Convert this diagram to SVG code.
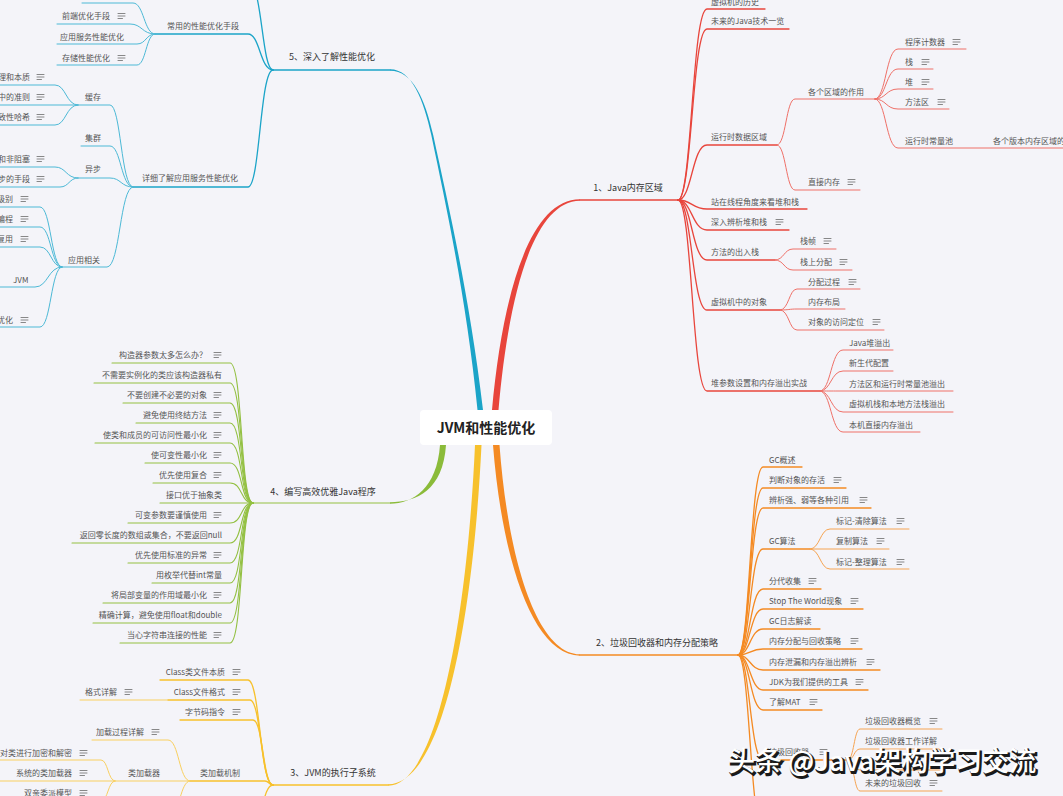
<svg xmlns="http://www.w3.org/2000/svg" width="1063" height="796" viewBox="0 0 1063 796">
<style>
text{font-family:"Noto Sans CJK SC","Noto Sans",sans-serif;font-size:8px;fill:#555}
.m{font-size:9px;fill:#333}
.e{text-anchor:end}
.c{text-anchor:middle}
path{fill:none;stroke-linecap:round}
.r2{stroke:#e8453c;stroke-width:1.3}
.r3{stroke:#ef7068;stroke-width:1}
.o2{stroke:#f48a23;stroke-width:1.3}
.o3{stroke:#f6a452;stroke-width:1}
.y2{stroke:#f7c12c;stroke-width:1.3}
.y3{stroke:#f9d060;stroke-width:1}
.g2{stroke:#93c042;stroke-width:1.1}
.b2{stroke:#1ba4c8;stroke-width:1.3}
.b3{stroke:#4cb9d6;stroke-width:1}
.wm{font-family:"Noto Sans CJK SC",sans-serif;font-size:27px;font-weight:500}
</style>
<defs>
<g id="n"><path d="M0,-2.5h7M0,0h7M0,2.5h4.5" style="stroke:#7a7a7a;stroke-width:0.9"/></g>
</defs>
<rect width="1063" height="796" fill="#f4f4f9"/>

<g id="connectors">
<!-- main tapered branches -->
<path d="M390,69.3 C412,69.3 423.5,100 431.3,135 C447,210 466.5,300 477.5,410 L483,410 C470,300 449.5,210 433.2,135 C425,99 413,70.7 390,70.7 Z" style="fill:#1ba4c8;stroke:none"/>
<path d="M492,410 C502,300 528,199.3 580,199.3 L580,200.7 C532,201 508,300 498.5,410 Z" style="fill:#e8453c;stroke:none"/>
<path d="M493,445 C502,560 533,655.7 580,655.7 L580,654.3 C537,654 508,560 499.5,445 Z" style="fill:#f48a23;stroke:none"/>
<path d="M475,445 C467,620 437,785.7 388,785.7 L388,784.3 C443,784 473,620 481.5,445 Z" style="fill:#f7c12c;stroke:none"/>
<path d="M440,445 C437,488 413,503.7 390,503.7 L390,502.3 C417,502 443,490 446,445 Z" style="fill:#8bbb3a;stroke:none"/>
<path class="b2" d="M390,70 H273"/>
<path class="r2" d="M580,200 H678"/>
<path class="o2" d="M580,655 H738"/>
<path class="y2" d="M388,785 H273"/>
<path class="g2" d="M390,503 H253"/>

<!-- section 1 -->
<path class="r2" d="M678,200 C692,200 692,9 707,9 H765"/>
<path class="r2" d="M678,200 C692,200 692,29 707,29 H789"/>
<path class="r2" d="M678,200 C692,200 692,145 707,145 H777"/>
<path class="r2" d="M678,200 C692,200 692,209 707,209 H807"/>
<path class="r2" d="M678,200 C692,200 692,230 707,230 H789"/>
<path class="r2" d="M678,200 C692,200 692,260 707,260 H775"/>
<path class="r2" d="M678,200 C692,200 692,310 707,310 H780"/>
<path class="r2" d="M678,200 C692,200 692,391 707,391 H820"/>
<path class="r3" d="M777,145 C786,145 786,99 795,99 H875"/>
<path class="r3" d="M777,145 C786,145 786,190 795,190 H860"/>
<path class="r3" d="M875,99 C886,99 886,49 898,49 H966"/>
<path class="r3" d="M875,99 C886,99 886,69 898,69 H933"/>
<path class="r3" d="M875,99 C886,99 886,89 898,89 H933"/>
<path class="r3" d="M875,99 C886,99 886,109 898,109 H949"/>
<path class="r3" d="M875,99 C886,99 886,148 898,148 H1063"/>
<path class="r3" d="M775,260 C784,260 784,249 793,249 H836"/>
<path class="r3" d="M775,260 C784,260 784,270 793,270 H852"/>
<path class="r3" d="M780,310 C789,310 789,289 797,289 H860"/>
<path class="r3" d="M780,310 C789,310 789,309 797,309 H845"/>
<path class="r3" d="M780,310 C789,310 789,330 797,330 H884"/>
<path class="r3" d="M820,391 C831,391 831,350 843,350 H893"/>
<path class="r3" d="M820,391 C831,391 831,371 843,371 H893"/>
<path class="r3" d="M820,391 C831,391 831,391 843,391 H953"/>
<path class="r3" d="M820,391 C831,391 831,412 843,412 H953"/>
<path class="r3" d="M820,391 C831,391 831,432 843,432 H920"/>

<!-- section 2 -->
<path class="o2" d="M738,655 C750,655 750,467 763,467 H802"/>
<path class="o2" d="M738,655 C750,655 750,488 763,488 H846"/>
<path class="o2" d="M738,655 C750,655 750,508 763,508 H871"/>
<path class="o2" d="M738,655 C750,655 750,549 763,549 H810"/>
<path class="o2" d="M738,655 C750,655 750,589 763,589 H821"/>
<path class="o2" d="M738,655 C750,655 750,609 763,609 H863"/>
<path class="o2" d="M738,655 C750,655 750,629 763,629 H820"/>
<path class="o2" d="M738,655 C750,655 750,649 763,649 H862"/>
<path class="o2" d="M738,655 C750,655 750,670 763,670 H880"/>
<path class="o2" d="M738,655 C750,655 750,690 763,690 H868"/>
<path class="o2" d="M738,655 C750,655 750,710 763,710 H822"/>
<path class="o2" d="M738,655 C750,655 750,760 763,760 H848"/>
<path class="o2" d="M738,655 C750,655 750,830 763,830"/>
<path class="o3" d="M810,549 C820,549 820,529 830,529 H909"/>
<path class="o3" d="M810,549 H889"/>
<path class="o3" d="M810,549 C820,549 820,569 830,569 H909"/>
<path class="o3" d="M848,760 C854,760 854,729 860,729 H942"/>
<path class="o3" d="M848,760 C854,760 854,749 860,749 H942"/>
<path class="o3" d="M848,760 C854,760 854,770 860,770 H942"/>
<path class="o3" d="M848,760 C854,760 854,791 860,791 H942"/>

<!-- section 3 -->
<path class="y2" d="M273,785 C260,785 260,680 248,680 H160"/>
<path class="y2" d="M273,785 C261,785 261,700 250,700 H168"/>
<path class="y2" d="M273,785 C263,785 263,720 253,720 H180"/>
<path class="y2" d="M273,785 C269,785 269,781 265,781 H190"/>
<path class="y2" d="M273,785 C262,785 262,830 250,830"/>
<path class="y3" d="M168,700 H80"/>
<path class="y3" d="M190,781 C179,781 179,740 168,740 H92"/>
<path class="y3" d="M190,781 H115"/>
<path class="y3" d="M190,781 C180,781 180,815 170,815"/>
<path class="y3" d="M115,781 C108,781 108,760 101,760 H0"/>
<path class="y3" d="M115,781 H0"/>
<path class="y3" d="M115,781 C108,781 108,801 101,801 H0"/>

<!-- section 4 -->
<path class="g2" d="M253,503 C240,503 243,363 230,363 H112"/>
<path class="g2" d="M253,503 C240,503 243,383 230,383 H94"/>
<path class="g2" d="M253,503 C240,503 243,403 230,403 H123"/>
<path class="g2" d="M253,503 C240,503 243,423 230,423 H136"/>
<path class="g2" d="M253,503 C240,503 243,443 230,443 H95"/>
<path class="g2" d="M253,503 C240,503 243,463 230,463 H145"/>
<path class="g2" d="M253,503 C240,503 243,483 230,483 H153"/>
<path class="g2" d="M253,503 C240,503 243,503 230,503 H160"/>
<path class="g2" d="M253,503 C240,503 243,523 230,523 H128"/>
<path class="g2" d="M253,503 C240,503 243,543 230,543 H72"/>
<path class="g2" d="M253,503 C240,503 243,563 230,563 H128"/>
<path class="g2" d="M253,503 C240,503 243,583 230,583 H152"/>
<path class="g2" d="M253,503 C240,503 243,603 230,603 H103"/>
<path class="g2" d="M253,503 C240,503 243,623 230,623 H93"/>
<path class="g2" d="M253,503 C240,503 243,643 230,643 H120"/>

<!-- section 5 -->
<path class="b2" d="M273,70 C262,70 262,-15 250,-15"/>
<path class="b2" d="M273,70 C260,70 260,34 248,34 H155"/>
<path class="b2" d="M273,70 C260,70 260,187 248,187 H133"/>
<path class="b3" d="M155,34 C144,34 144,3 133,3 H82"/>
<path class="b3" d="M155,34 C142,34 142,24 130,24 H57"/>
<path class="b3" d="M155,34 C146,34 146,44 137,44 H57"/>
<path class="b3" d="M155,34 C146,34 146,65 137,65 H57"/>
<path class="b3" d="M133,187 C121,187 121,105 110,105 H78"/>
<path class="b3" d="M133,187 C121,187 121,146 110,146 H81"/>
<path class="b3" d="M133,187 C121,187 121,178 110,178 H78"/>
<path class="b3" d="M133,187 C120,187 120,267 107,267 H62"/>
<path class="b3" d="M78,105 C66,105 66,85 55,85 H0"/>
<path class="b3" d="M78,105 H0"/>
<path class="b3" d="M78,105 C66,105 66,125 55,125 H0"/>
<path class="b3" d="M78,178 C66,178 66,167 55,167 H0"/>
<path class="b3" d="M78,178 C69,178 69,187 60,187 H0"/>
<path class="b3" d="M62,267 C51,267 51,207 40,207 H0"/>
<path class="b3" d="M62,267 C51,267 51,227 40,227 H0"/>
<path class="b3" d="M62,267 C51,267 51,247 40,247 H0"/>
<path class="b3" d="M62,267 C48,267 48,287 35,287 H0"/>
<path class="b3" d="M62,267 C51,267 51,327 40,327 H0"/>
</g>

<g id="center">
<rect x="420" y="410" width="132" height="35" rx="4" fill="#ffffff"/>
<text x="486" y="433" class="c" style="font-size:14px;font-weight:600;fill:#222">JVM和性能优化</text>
</g>

<g id="s1"><text x="628" y="191" class="m c">1、Java内存区域</text></g>
<g id="s2"><text x="657" y="646" class="m c">2、垃圾回收器和内存分配策略</text></g>
<g id="s3"><text x="333" y="776" class="m c">3、JVM的执行子系统</text></g>
<g id="s4"><text x="323" y="495" class="m c">4、编写高效优雅Java程序</text></g>
<g id="s5"><text x="332" y="60" class="m c">5、深入了解性能优化</text></g>

<!-- section 1 nodes -->
<g id="n1-1"><text x="711" y="5">虚拟机的历史</text></g>
<g id="n1-2"><text x="711" y="24">未来的Java技术一览</text></g>
<g id="n1-3"><text x="711" y="140">运行时数据区域</text></g>
<g id="n1-3-1"><text x="808" y="95">各个区域的作用</text></g>
<g id="n1-3-1-1"><text x="905" y="45">程序计数器</text><use href="#n" x="953" y="42"/></g>
<g id="n1-3-1-2"><text x="905" y="65">栈</text><use href="#n" x="922" y="62"/></g>
<g id="n1-3-1-3"><text x="905" y="85">堆</text><use href="#n" x="922" y="82"/></g>
<g id="n1-3-1-4"><text x="905" y="105">方法区</text><use href="#n" x="938" y="102"/></g>
<g id="n1-3-1-5"><text x="905" y="144">运行时常量池</text></g>
<g id="n1-3-1-5-1"><text x="993" y="144">各个版本内存区域的变化</text></g>
<g id="n1-3-2"><text x="808" y="185">直接内存</text><use href="#n" x="848" y="182"/></g>
<g id="n1-4"><text x="711" y="205">站在线程角度来看堆和栈</text></g>
<g id="n1-5"><text x="711" y="225">深入辨析堆和栈</text><use href="#n" x="776" y="222"/></g>
<g id="n1-6"><text x="711" y="255">方法的出入栈</text></g>
<g id="n1-6-1"><text x="800" y="244">栈帧</text><use href="#n" x="824" y="241"/></g>
<g id="n1-6-2"><text x="800" y="265">栈上分配</text><use href="#n" x="840" y="262"/></g>
<g id="n1-7"><text x="711" y="305">虚拟机中的对象</text></g>
<g id="n1-7-1"><text x="808" y="285">分配过程</text><use href="#n" x="849" y="282"/></g>
<g id="n1-7-2"><text x="808" y="305">内存布局</text></g>
<g id="n1-7-3"><text x="808" y="325">对象的访问定位</text><use href="#n" x="873" y="322"/></g>
<g id="n1-8"><text x="711" y="386">堆参数设置和内存溢出实战</text></g>
<g id="n1-8-1"><text x="849" y="346">Java堆溢出</text></g>
<g id="n1-8-2"><text x="849" y="366">新生代配置</text></g>
<g id="n1-8-3"><text x="849" y="387">方法区和运行时常量池溢出</text></g>
<g id="n1-8-4"><text x="849" y="407">虚拟机栈和本地方法栈溢出</text></g>
<g id="n1-8-5"><text x="849" y="428">本机直接内存溢出</text></g>

<!-- section 2 nodes -->
<g id="n2-1"><text x="769" y="463">GC概述</text></g>
<g id="n2-2"><text x="769" y="483">判断对象的存活</text><use href="#n" x="834" y="480"/></g>
<g id="n2-3"><text x="769" y="503">辨析强、弱等各种引用</text><use href="#n" x="860" y="500"/></g>
<g id="n2-4"><text x="769" y="544">GC算法</text></g>
<g id="n2-4-1"><text x="836" y="524">标记-清除算法</text><use href="#n" x="897" y="521"/></g>
<g id="n2-4-2"><text x="836" y="544">复制算法</text><use href="#n" x="877" y="541"/></g>
<g id="n2-4-3"><text x="836" y="565">标记-整理算法</text><use href="#n" x="897" y="562"/></g>
<g id="n2-5"><text x="769" y="584">分代收集</text><use href="#n" x="809" y="581"/></g>
<g id="n2-6"><text x="769" y="604">Stop The World现象</text><use href="#n" x="851" y="601"/></g>
<g id="n2-7"><text x="769" y="624">GC日志解读</text></g>
<g id="n2-8"><text x="769" y="644">内存分配与回收策略</text><use href="#n" x="851" y="641"/></g>
<g id="n2-9"><text x="769" y="665">内存泄漏和内存溢出辨析</text><use href="#n" x="867" y="662"/></g>
<g id="n2-10"><text x="769" y="685">JDK为我们提供的工具</text><use href="#n" x="856" y="682"/></g>
<g id="n2-11"><text x="769" y="705">了解MAT</text><use href="#n" x="810" y="702"/></g>
<g id="n2-12"><text x="769" y="755">垃圾回收器</text><use href="#n" x="820" y="752"/></g>
<g id="n2-12-1"><text x="865" y="724">垃圾回收器概览</text><use href="#n" x="930" y="721"/></g>
<g id="n2-12-2"><text x="865" y="744">垃圾回收器工作详解</text></g>
<g id="n2-12-4"><text x="865" y="786">未来的垃圾回收</text><use href="#n" x="930" y="783"/></g>

<!-- section 3 nodes -->
<g id="n3-1"><text x="225" y="675" class="e">Class类文件本质</text><use href="#n" x="233" y="672"/></g>
<g id="n3-2"><text x="225" y="695" class="e">Class文件格式</text><use href="#n" x="233" y="692"/></g>
<g id="n3-2-1"><text x="85" y="695">格式详解</text><use href="#n" x="125" y="692"/></g>
<g id="n3-3"><text x="225" y="715" class="e">字节码指令</text><use href="#n" x="233" y="712"/></g>
<g id="n3-4"><text x="200" y="776">类加载机制</text></g>
<g id="n3-4-1"><text x="96" y="735">加载过程详解</text><use href="#n" x="152" y="732"/></g>
<g id="n3-4-2"><text x="128" y="776">类加载器</text></g>
<g id="n3-4-2-1"><text x="72" y="756" class="e">对类进行加密和解密</text><use href="#n" x="80" y="753"/></g>
<g id="n3-4-2-2"><text x="72" y="776" class="e">系统的类加载器</text><use href="#n" x="80" y="773"/></g>
<g id="n3-4-2-3"><text x="72" y="796" class="e">双亲委派模型</text><use href="#n" x="80" y="793"/></g>

<!-- section 4 nodes -->
<g id="n4-1"><text x="207" y="358" class="e">构造器参数太多怎么办？</text><use href="#n" x="214" y="355"/></g>
<g id="n4-2"><text x="222" y="378" class="e">不需要实例化的类应该构造器私有</text></g>
<g id="n4-3"><text x="207" y="398" class="e">不要创建不必要的对象</text><use href="#n" x="214" y="395"/></g>
<g id="n4-4"><text x="207" y="418" class="e">避免使用终结方法</text><use href="#n" x="214" y="415"/></g>
<g id="n4-5"><text x="207" y="438" class="e">使类和成员的可访问性最小化</text><use href="#n" x="214" y="435"/></g>
<g id="n4-6"><text x="207" y="458" class="e">使可变性最小化</text><use href="#n" x="214" y="455"/></g>
<g id="n4-7"><text x="207" y="478" class="e">优先使用复合</text><use href="#n" x="214" y="475"/></g>
<g id="n4-8"><text x="222" y="498" class="e">接口优于抽象类</text></g>
<g id="n4-9"><text x="207" y="518" class="e">可变参数要谨慎使用</text><use href="#n" x="214" y="515"/></g>
<g id="n4-10"><text x="222" y="538" class="e">返回零长度的数组或集合，不要返回null</text></g>
<g id="n4-11"><text x="207" y="558" class="e">优先使用标准的异常</text><use href="#n" x="214" y="555"/></g>
<g id="n4-12"><text x="222" y="578" class="e">用枚举代替int常量</text></g>
<g id="n4-13"><text x="207" y="598" class="e">将局部变量的作用域最小化</text><use href="#n" x="214" y="595"/></g>
<g id="n4-14"><text x="222" y="618" class="e">精确计算，避免使用float和double</text></g>
<g id="n4-15"><text x="207" y="638" class="e">当心字符串连接的性能</text><use href="#n" x="214" y="635"/></g>

<!-- section 5 nodes -->
<g id="n5-1"><text x="167" y="29">常用的性能优化手段</text></g>
<g id="n5-1-1"><text x="62" y="19">前端优化手段</text><use href="#n" x="118" y="16"/></g>
<g id="n5-1-2"><text x="60" y="40">应用服务性能优化</text></g>
<g id="n5-1-3"><text x="62" y="61">存储性能优化</text><use href="#n" x="118" y="58"/></g>
<g id="n5-2"><text x="142" y="181">详细了解应用服务性能优化</text></g>
<g id="n5-2-1"><text x="85" y="100">缓存</text></g>
<g id="n5-2-1-1"><text x="30" y="80" class="e">缓存的原理和本质</text><use href="#n" x="37" y="77"/></g>
<g id="n5-2-1-2"><text x="30" y="100" class="e">缓存使用中的准则</text><use href="#n" x="37" y="97"/></g>
<g id="n5-2-1-3"><text x="30" y="120" class="e">分布式缓存和一致性哈希</text><use href="#n" x="37" y="117"/></g>
<g id="n5-2-2"><text x="85" y="141">集群</text></g>
<g id="n5-2-3"><text x="85" y="172">异步</text></g>
<g id="n5-2-3-1"><text x="30" y="162" class="e">同步和异步，阻塞和非阻塞</text><use href="#n" x="37" y="159"/></g>
<g id="n5-2-3-2"><text x="30" y="182" class="e">常见异步的手段</text><use href="#n" x="37" y="179"/></g>
<g id="n5-2-4"><text x="68" y="263">应用相关</text></g>
<g id="n5-2-4-1"><text x="13" y="202" class="e">隔离级别</text><use href="#n" x="21" y="199"/></g>
<g id="n5-2-4-2"><text x="13" y="222" class="e">并发编程</text><use href="#n" x="21" y="219"/></g>
<g id="n5-2-4-3"><text x="13" y="242" class="e">资源复用</text><use href="#n" x="21" y="239"/></g>
<g id="n5-2-4-4"><text x="13" y="283">JVM</text></g>
<g id="n5-2-4-5"><text x="13" y="323" class="e">数据库优化</text><use href="#n" x="21" y="320"/></g>

<g id="watermark">
<text x="729.5" y="772.5" class="wm" style="fill:#1a1a1a;stroke:#1a1a1a;stroke-width:2">头条 @Java架构学习交流</text>
<text x="728" y="771" class="wm" style="fill:#ffffff">头条 @Java架构学习交流</text>
</g>
</svg>
